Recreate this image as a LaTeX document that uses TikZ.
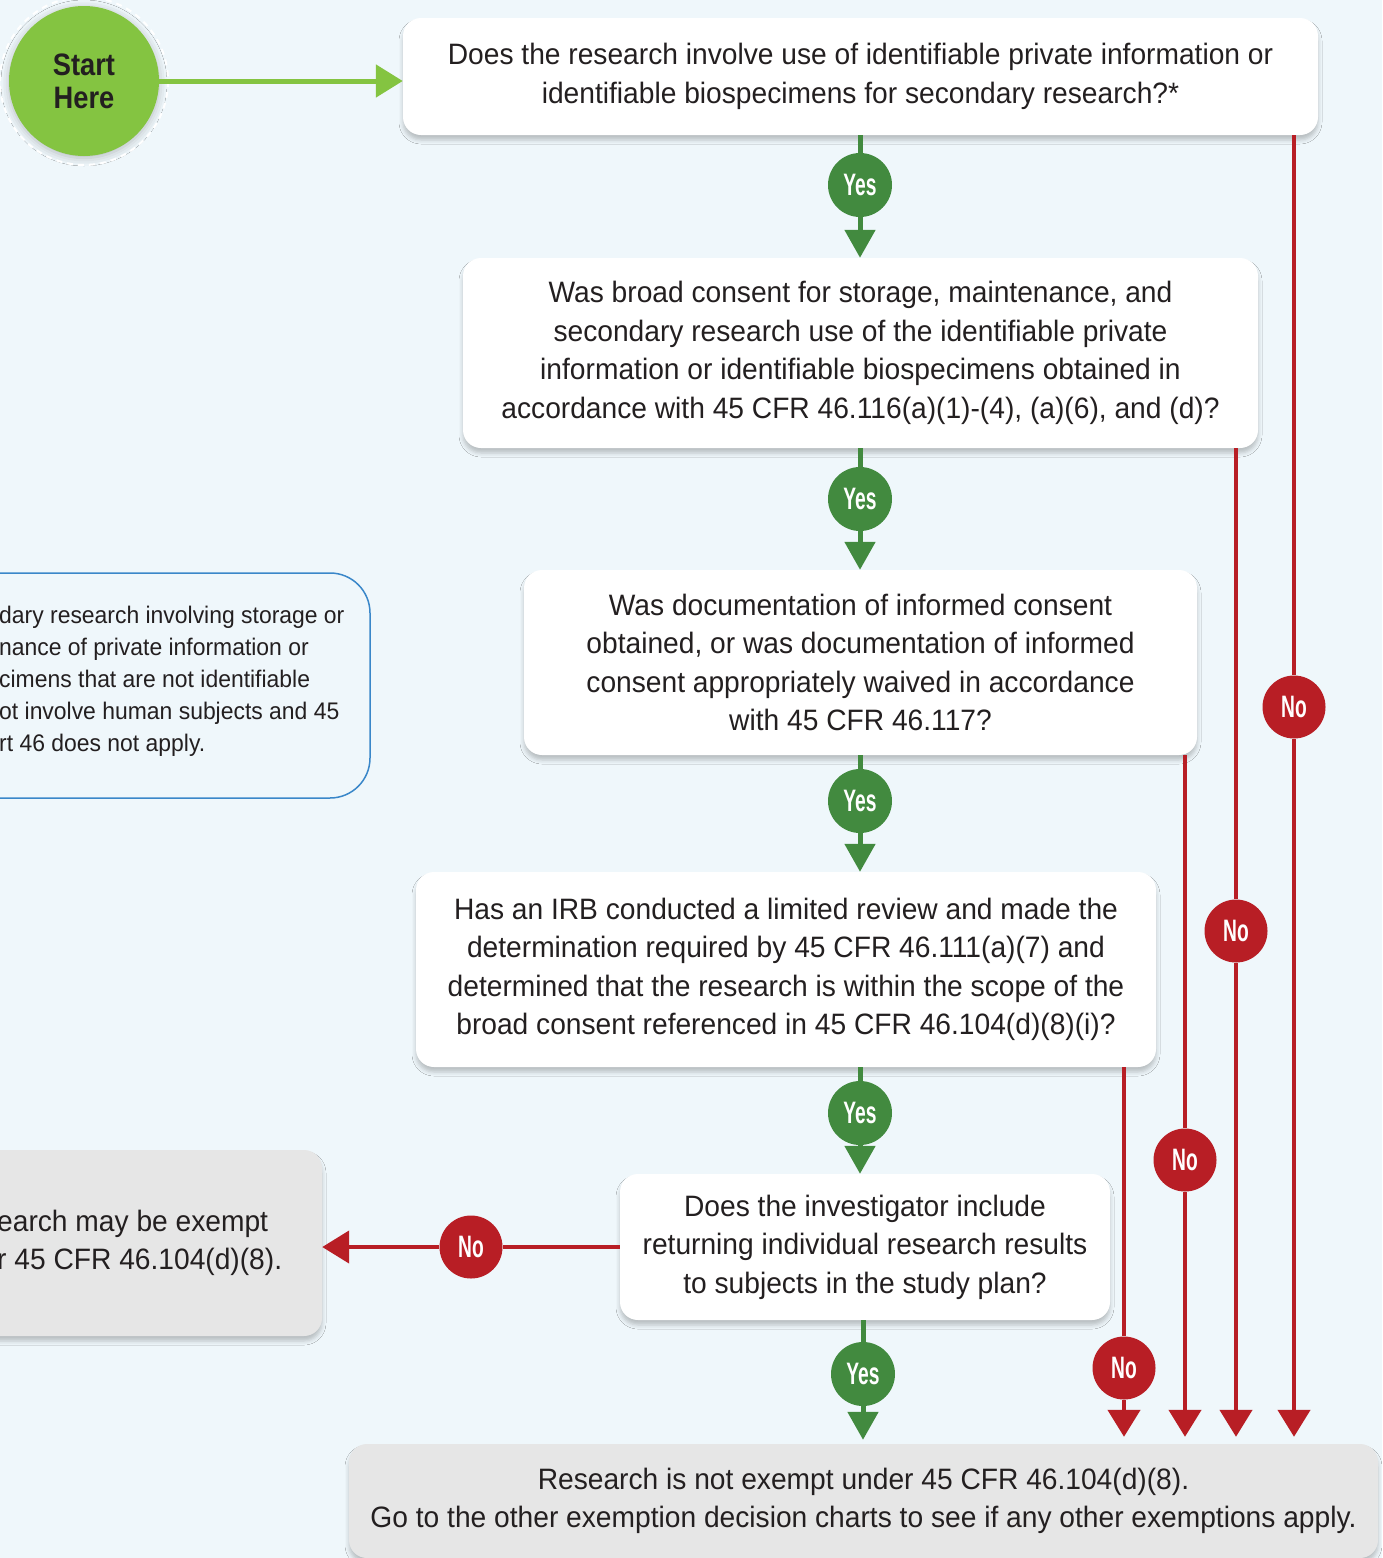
\documentclass[tikz,border=0pt]{standalone}
\usepackage{fontspec}
\setmainfont{Liberation Sans}[FakeStretch=0.955]
\newfontfamily\startfont{Liberation Sans}[FakeStretch=0.88]
\newfontfamily\answerfont{Liberation Sans}[FakeStretch=0.62]
\usepackage{xcolor}
\usepackage{tikz}
\usetikzlibrary{arrows.meta, positioning, shadows.blur}

\definecolor{pagebg}{HTML}{EFF7FB}
\definecolor{textgrey}{HTML}{231F20}
\definecolor{startgreen}{HTML}{84C441}
\definecolor{yesgreen}{HTML}{428A3F}
\definecolor{nored}{HTML}{B81E25}
\definecolor{noteblue}{HTML}{3A87C9}
\definecolor{endgrey}{HTML}{E6E6E6}

\begin{document}
\begin{tikzpicture}[
    x=1pt, y=-1pt,
    every node/.style={
        text=textgrey,
        inner sep=0pt,
        font=\fontsize{29.5}{38.5}\selectfont
    },
    question/.style={fill=white, rounded corners=18pt, align=center,
        blur shadow={shadow xshift=0pt, shadow yshift=-5pt,
                     shadow blur radius=4pt, shadow opacity=22}},
    outcome/.style={fill=endgrey, rounded corners=18pt, align=center,
        blur shadow={shadow xshift=0pt, shadow yshift=-5pt,
                     shadow blur radius=4pt, shadow opacity=22}},
    note/.style={draw=noteblue, line width=1.5pt, fill=pagebg, rounded corners=40pt},
    answeryes/.style={circle, fill=yesgreen, minimum size=64pt, text=white,
        font=\answerfont\bfseries\fontsize{31}{31}\selectfont},
    answerno/.style={circle, fill=nored, minimum size=63pt, text=white,
        font=\answerfont\bfseries\fontsize{31}{31}\selectfont},
    yesline/.style={draw=yesgreen, line width=5pt},
    noline/.style={draw=nored, line width=4.5pt},
    yestip/.style={-{Triangle[length=28pt,width=30pt]}},
    notip/.style={-{Triangle[length=27pt,width=32pt]}}
]

\useasboundingbox (0,0) rectangle (1382,1558);
\clip (0,0) rectangle (1382,1558);
\fill[pagebg] (0,0) rectangle (1382,1558);

% start
\node[circle, fill=startgreen, minimum size=150pt, align=center,
      font=\startfont\bfseries\fontsize{31}{33}\selectfont,
      blur shadow={shadow xshift=0pt, shadow yshift=-2pt, shadow blur radius=8pt, shadow opacity=25}]
      (start) at (84,81) {Start\\Here};
\draw[white, line width=2pt, dash pattern=on 6pt off 5pt] (start) circle (84);

% questions
\node[question, minimum width=915pt, minimum height=117pt] (q1) at (860.5,76.5)
    {Does the research involve use of identifiable private information or\\
     identifiable biospecimens for secondary research?*};
\node[question, minimum width=795pt, minimum height=190pt] (q2) at (860.5,353)
    {Was broad consent for storage, maintenance, and\\
     secondary research use of the identifiable private\\
     information or identifiable biospecimens obtained in\\
     accordance with 45 CFR 46.116(a)(1)-(4), (a)(6), and (d)?};
\node[question, minimum width=673pt, minimum height=185pt] (q3) at (860.5,662.5)
    {Was documentation of informed consent\\
     obtained, or was documentation of informed\\
     consent appropriately waived in accordance\\
     with 45 CFR 46.117?};
\node[question, minimum width=740pt, minimum height=195pt] (q4) at (786,969.5)
    {Has an IRB conducted a limited review and made the\\
     determination required by 45 CFR 46.111(a)(7) and\\
     determined that the research is within the scope of the\\
     broad consent referenced in 45 CFR 46.104(d)(8)(i)?};
\node[question, minimum width=490pt, minimum height=146pt] (q5) at (865,1247)
    {Does the investigator include\\
     returning individual research results\\
     to subjects in the study plan?};

% outcomes
\node[outcome, minimum width=1029pt, minimum height=114pt] (notexempt) at (863.5,1501)
    {Research is not exempt under 45 CFR 46.104(d)(8).\\
     Go to the other exemption decision charts to see if any other exemptions apply.};
\node[outcome, minimum width=400pt, minimum height=186pt] (mayexempt) at (122,1243) {};
\node[anchor=west, align=left] (mayexempttxt) at (-3,1243)
    {earch may be exempt\\r 45 CFR 46.104(d)(8).};

% side note
\node[note, minimum width=540pt, minimum height=225pt] (nothuman) at (100,685.5) {};
\node[anchor=west, align=left, font=\fontsize{24}{32}\selectfont] (nothumantxt) at (-1,681)
    {dary research involving storage or\\
     nance of private information or\\
     cimens that are not identifiable\\
     ot involve human subjects and 45\\
     rt 46 does not apply.};

% answers
\node[answeryes] (yes1) at (860,185) {Yes};
\node[answeryes] (yes2) at (860,499) {Yes};
\node[answeryes] (yes3) at (860,801) {Yes};
\node[answeryes] (yes4) at (860,1113) {Yes};
\node[answeryes] (yes5) at (863,1374) {Yes};
\node[answerno] (no1) at (1294,707) {No};
\node[answerno] (no2) at (1236,931) {No};
\node[answerno] (no3) at (1185,1160) {No};
\node[answerno] (no4) at (1124,1368) {No};
\node[answerno] (no5) at (471,1247) {No};

% start arrow
\draw[draw=startgreen, line width=5pt, -{Triangle[length=27pt,width=32pt]}]
    (start) -- (start -| q1.west);

% yes path
\draw[yesline] (q1.south -| yes1) -- (yes1);
\draw[yesline, yestip] (yes1) -- (yes1 |- q2.north);
\draw[yesline] (q2.south -| yes2) -- (yes2);
\draw[yesline, yestip] (yes2) -- (yes2 |- q3.north);
\draw[yesline] (q3.south -| yes3) -- (yes3);
\draw[yesline, yestip] (yes3) -- (yes3 |- q4.north);
\draw[yesline] (q4.south -| yes4) -- (yes4);
\draw[yesline, yestip] (yes4) -- (yes4 |- q5.north);
\draw[yesline] (q5.south -| yes5) -- (yes5);
\draw[yesline, yestip, shorten >=4pt] (yes5) -- (yes5 |- notexempt.north);

% no paths
\draw[noline] (q1.south -| no1) -- (no1);
\draw[noline, notip, shorten >=7pt] (no1) -- (no1 |- notexempt.north);
\draw[noline] (q2.south -| no2) -- (no2);
\draw[noline, notip, shorten >=7pt] (no2) -- (no2 |- notexempt.north);
\draw[noline] (q3.south -| no3) -- (no3);
\draw[noline, notip, shorten >=7pt] (no3) -- (no3 |- notexempt.north);
\draw[noline] (q4.south -| no4) -- (no4);
\draw[noline, notip, shorten >=7pt] (no4) -- (no4 |- notexempt.north);
\draw[noline] (q5.west) -- (no5);
\draw[noline, notip] (no5) -- (no5 -| mayexempt.east);

\end{tikzpicture}
\end{document}
